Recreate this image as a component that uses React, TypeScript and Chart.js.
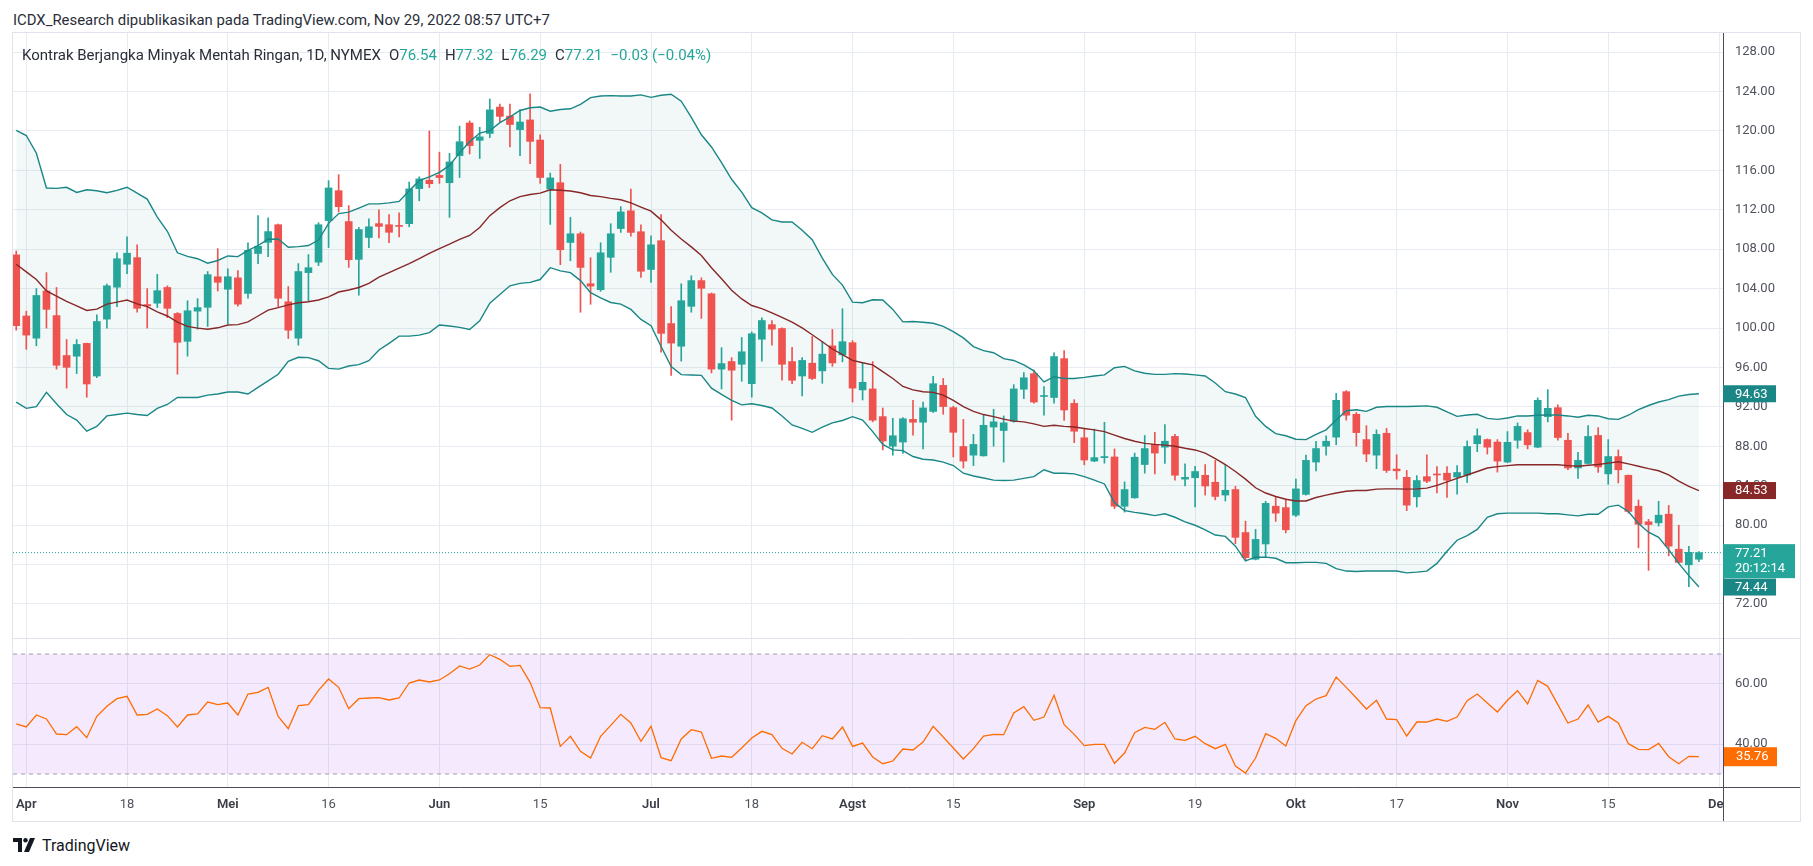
import React, { useEffect, useRef } from "react";
import { Chart, registerables } from "chart.js";

Chart.register(...registerables);

// ---------- data (trading-day index 0 = 31 Mar 2022 ... 167 = 29 Nov 2022) ----------
const opens = [
  107.42, 101.22, 98.97, 103.76, 101.26, 97.21, 97.14, 98.44, 95.13, 100.9,
  104.14, 106.47, 107.14, 102.38, 102.52, 104.11, 101.47, 98.65, 101.71, 102.1,
  105.2, 103.93, 105.09, 103.51, 107.56, 108.69, 110.48, 102.66, 98.97, 105.62,
  106.68, 110.9, 113.93, 110.8, 106.96, 109.18, 110.59, 110.48, 110.38, 110.59,
  114.14, 114.99, 115.48, 114.74, 117.49, 120.8, 119.04, 119.74, 122.41, 121.5,
  120.13, 121.11, 119.07, 114.1, 114.74, 108.68, 109.56, 104.49, 103.89, 107.17,
  110.09, 111.89, 109.77, 105.94, 108.86, 100.45, 98.15, 102.2, 104.81, 103.47,
  95.83, 96.6, 96.32, 94.35, 98.86, 100.34, 99.95, 96.6, 95.13, 96.43,
  95.65, 98.19, 97.27, 98.51, 93.72, 93.82, 91.01, 88.01, 88.43, 90.73,
  90.44, 91.54, 94.18, 91.92, 87.98, 87.1, 87.03, 89.95, 89.6, 90.55,
  93.79, 95.37, 93.05, 92.95, 96.89, 92.35, 88.86, 86.5, 86.85, 86.92,
  81.92, 82.77, 86.15, 88.19, 87.91, 89.0, 84.67, 84.81, 85.06, 84.35,
  83.05, 83.61, 79.25, 76.54, 78.09, 81.92, 81.78, 81.01, 83.12, 86.4,
  88.01, 88.93, 93.54, 91.25, 88.68, 87.1, 89.32, 85.69, 84.85, 82.87,
  84.92, 85.16, 85.27, 84.88, 85.09, 88.26, 88.68, 88.43, 86.4, 88.61,
  89.39, 87.91, 91.01, 91.92, 88.61, 85.8, 86.26, 89.1, 85.2, 86.96,
  85.06, 81.92, 80.34, 80.23, 81.11, 77.56, 75.97, 76.54,
];
const highs = [
  107.81, 101.71, 104.0, 105.62, 104.11, 98.83, 98.83, 98.47, 101.33, 104.46,
  107.63, 109.25, 108.44, 104.0, 105.45, 104.28, 101.57, 102.77, 102.98, 105.73,
  108.05, 106.01, 105.83, 108.65, 111.4, 111.19, 110.55, 104.21, 106.54, 107.45,
  110.69, 114.95, 115.55, 112.42, 110.2, 111.08, 112.0, 111.5, 111.68, 114.81,
  115.34, 119.99, 117.84, 117.73, 120.48, 121.01, 120.37, 123.23, 122.73, 122.73,
  122.17, 123.75, 119.6, 115.72, 116.6, 111.22, 109.74, 107.13, 108.65, 110.58,
  112.31, 114.1, 110.48, 109.35, 111.5, 102.17, 104.49, 105.3, 105.09, 103.55,
  98.01, 96.99, 99.04, 99.6, 101.04, 100.76, 100.02, 98.05, 96.99, 99.14,
  98.61, 99.85, 101.96, 98.72, 96.5, 96.6, 91.89, 90.83, 90.9, 92.66,
  92.49, 95.09, 94.88, 92.06, 90.73, 89.21, 91.15, 91.75, 91.08, 94.25,
  95.48, 95.72, 94.07, 97.49, 97.7, 92.73, 89.74, 89.74, 90.44, 87.73,
  84.39, 87.31, 89.1, 89.42, 90.2, 89.21, 86.22, 85.97, 86.15, 86.57,
  86.08, 83.93, 80.41, 79.57, 82.42, 82.91, 82.63, 84.67, 87.1, 88.51,
  89.07, 93.37, 93.65, 91.43, 90.09, 89.67, 89.81, 87.14, 85.55, 85.02,
  87.14, 85.94, 85.94, 86.04, 88.54, 89.77, 88.75, 88.68, 89.49, 90.37,
  89.67, 92.91, 93.75, 92.2, 89.32, 87.38, 90.09, 89.91, 88.68, 87.63,
  85.09, 82.56, 80.59, 82.42, 82.0, 79.99, 77.84, 77.32,
];
const lows = [
  99.78, 97.84, 98.19, 99.99, 95.83, 93.9, 95.38, 92.98, 94.95, 99.99,
  102.17, 105.52, 101.61, 99.99, 102.07, 101.05, 95.31, 97.14, 99.88, 100.16,
  103.76, 100.41, 102.21, 103.02, 106.54, 107.24, 102.17, 98.93, 98.26, 102.74,
  106.33, 108.16, 111.78, 106.15, 103.33, 108.16, 109.14, 108.65, 109.25, 110.27,
  112.91, 114.25, 114.67, 111.22, 115.27, 117.66, 117.2, 119.32, 120.9, 118.37,
  117.49, 116.67, 114.67, 110.51, 106.43, 106.82, 101.6, 102.41, 103.72, 105.65,
  109.7, 109.32, 105.13, 104.63, 97.56, 95.2, 96.64, 101.6, 100.97, 95.44,
  93.82, 90.65, 94.6, 92.98, 96.64, 98.26, 94.7, 94.35, 93.12, 94.77,
  94.39, 96.11, 96.57, 92.49, 92.7, 90.48, 87.63, 87.1, 87.27, 89.14,
  87.73, 91.43, 91.25, 86.92, 85.8, 86.04, 87.0, 88.01, 86.4, 90.44,
  92.84, 92.38, 91.15, 92.38, 90.62, 88.37, 86.12, 86.43, 86.29, 81.67,
  81.32, 82.73, 85.27, 85.2, 86.26, 84.56, 83.97, 81.85, 83.05, 82.56,
  82.45, 78.12, 76.47, 76.47, 76.78, 80.38, 79.21, 80.87, 83.05, 85.51,
  87.1, 88.16, 90.65, 88.01, 86.43, 85.73, 85.34, 84.67, 81.47, 81.85,
  84.32, 83.26, 82.8, 83.15, 84.32, 87.45, 87.21, 85.38, 86.33, 87.8,
  87.73, 87.85, 90.48, 88.61, 85.62, 84.74, 86.2, 85.34, 84.14, 84.28,
  81.22, 77.7, 75.41, 79.91, 76.89, 76.15, 73.76, 76.29,
];
const closes = [
  100.24, 99.28, 103.3, 101.89, 96.22, 96.01, 98.33, 94.32, 100.66, 104.28,
  107.03, 107.59, 102.0, 102.24, 103.79, 102.0, 98.55, 101.75, 102.07, 105.41,
  104.64, 105.2, 102.42, 107.88, 108.3, 109.78, 103.02, 99.78, 105.73, 106.12,
  110.48, 114.21, 112.31, 106.93, 109.99, 110.27, 110.31, 109.71, 110.31, 114.11,
  115.13, 114.64, 115.27, 116.85, 118.9, 118.51, 119.39, 122.13, 121.47, 120.65,
  120.9, 118.93, 115.27, 115.23, 107.94, 109.56, 106.15, 104.25, 107.63, 109.56,
  111.78, 109.7, 105.76, 108.44, 99.46, 98.47, 102.77, 104.81, 104.03, 95.83,
  96.39, 95.72, 97.59, 99.42, 100.76, 99.88, 96.32, 94.7, 96.71, 94.88,
  97.35, 96.46, 98.61, 93.9, 94.49, 90.65, 88.54, 89.07, 90.79, 90.44,
  91.89, 94.35, 92.03, 89.42, 86.5, 88.19, 90.13, 90.48, 90.38, 93.82,
  94.95, 92.49, 93.12, 97.1, 91.68, 89.53, 86.61, 86.85, 86.96, 81.92,
  83.61, 86.89, 87.77, 87.31, 88.51, 85.06, 84.85, 85.44, 83.97, 82.91,
  83.54, 78.76, 76.71, 78.55, 82.21, 81.22, 79.53, 83.68, 86.57, 87.77,
  88.51, 92.66, 91.15, 89.39, 87.21, 89.21, 85.55, 85.51, 82.03, 84.53,
  84.46, 85.09, 84.56, 85.34, 87.98, 89.07, 87.91, 86.5, 88.4, 90.02,
  88.15, 92.66, 91.85, 88.89, 85.8, 86.57, 89.0, 85.9, 86.96, 85.62,
  81.39, 80.09, 80.06, 81.01, 77.87, 76.22, 77.24, 77.21,
];

const bbUpper = [
  120.06, 119.53, 117.73, 114.21, 114.17, 114.28, 113.75, 114.03, 113.93, 113.72,
  113.97, 114.28, 113.68, 113.08, 111.25, 109.81, 107.63, 107.27, 107.03, 106.57,
  106.85, 107.31, 107.24, 107.87, 108.37, 109.0, 109.03, 108.19, 108.26, 108.37,
  108.93, 110.62, 111.61, 111.75, 112.17, 112.59, 112.59, 112.7, 112.84, 113.93,
  114.95, 115.34, 115.8, 116.5, 117.77, 118.9, 119.78, 120.02, 120.83, 121.43,
  122.07, 122.35, 122.42, 121.99, 122.17, 122.24, 122.7, 123.37, 123.54, 123.58,
  123.54, 123.54, 123.65, 123.4, 123.61, 123.72, 123.01, 121.36, 119.6, 118.37,
  116.78, 115.09, 113.79, 112.21, 111.68, 110.97, 110.76, 110.76, 109.92, 108.96,
  107.1, 105.44, 104.35, 102.63, 102.56, 102.87, 102.84, 101.89, 100.62, 100.66,
  100.59, 100.48, 100.16, 99.64, 99.0, 98.12, 97.7, 97.49, 96.89, 96.71,
  96.26, 95.65, 94.53, 95.06, 94.88, 94.88, 94.99, 95.13, 95.24, 95.97,
  96.11, 95.65, 95.41, 95.3, 95.3, 95.37, 95.34, 95.24, 95.13, 94.42,
  93.54, 93.3, 92.95, 91.04, 90.02, 89.28, 89.07, 88.72, 88.68, 89.21,
  89.67, 90.66, 91.61, 91.71, 91.54, 91.96, 92.03, 92.03, 92.03, 92.06,
  92.1, 91.96, 91.5, 91.04, 91.18, 91.25, 90.83, 90.73, 90.87, 91.08,
  91.08, 91.15, 91.18, 91.18, 91.08, 90.94, 91.15, 91.08, 90.8, 90.73,
  91.15, 91.71, 92.14, 92.49, 92.73, 93.09, 93.26, 93.33,
];
const bbBasis = [
  106.47, 105.69, 104.92, 103.76, 103.23, 102.7, 102.24, 101.78, 101.92, 102.42,
  102.63, 102.84, 102.45, 102.17, 101.64, 101.22, 100.59, 100.16, 99.99, 99.88,
  100.02, 100.31, 100.34, 100.62, 101.22, 101.82, 102.07, 102.35, 102.56, 102.66,
  102.84, 103.16, 103.65, 103.86, 104.11, 104.53, 105.16, 105.62, 106.08, 106.54,
  107.03, 107.56, 108.05, 108.51, 109.0, 109.39, 110.2, 111.4, 112.21, 112.91,
  113.33, 113.54, 113.68, 114.03, 113.97, 113.9, 113.72, 113.44, 113.33, 113.15,
  113.01, 112.7, 112.27, 111.85, 110.97, 109.92, 109.03, 108.23, 107.35, 106.12,
  104.99, 103.83, 102.95, 102.28, 101.96, 101.54, 101.08, 100.59, 100.02, 99.32,
  98.61, 97.87, 97.31, 96.71, 96.47, 96.26, 95.58, 94.88, 94.07, 93.72,
  93.54, 93.47, 93.19, 92.66, 92.03, 91.54, 91.22, 91.01, 90.76, 90.55,
  90.48, 90.27, 90.02, 90.13, 90.02, 89.95, 89.81, 89.67, 89.49, 89.14,
  88.79, 88.51, 88.3, 88.19, 88.12, 88.01, 87.8, 87.63, 87.31, 86.75,
  86.15, 85.44, 84.67, 83.79, 83.26, 82.91, 82.63, 82.45, 82.45, 82.8,
  83.05, 83.26, 83.44, 83.51, 83.51, 83.65, 83.68, 83.68, 83.65, 83.68,
  83.75, 84.04, 84.39, 84.74, 85.09, 85.44, 85.8, 85.94, 86.04, 86.12,
  86.12, 86.12, 86.12, 86.12, 86.04, 85.97, 86.08, 86.15, 86.29, 86.43,
  86.22, 85.97, 85.73, 85.52, 85.09, 84.46, 83.93, 83.51,
];
const bbLower = [
  92.49, 91.85, 92.03, 93.47, 92.31, 91.22, 90.66, 89.53, 90.02, 91.08,
  91.22, 91.36, 91.22, 91.12, 91.85, 92.24, 92.95, 92.95, 92.95, 93.19,
  93.3, 93.51, 93.51, 93.3, 93.97, 94.64, 95.31, 96.61, 97.03, 97.0,
  96.68, 95.9, 95.83, 96.15, 96.29, 96.68, 97.77, 98.44, 99.18, 99.18,
  99.28, 99.53, 100.31, 100.2, 100.06, 99.85, 100.73, 102.52, 103.4, 104.28,
  104.53, 104.63, 104.92, 106.12, 105.8, 105.62, 104.81, 103.58, 103.05, 102.59,
  102.42, 101.89, 100.87, 100.24, 98.12, 96.08, 95.27, 95.24, 95.2, 93.9,
  93.26, 92.66, 92.2, 92.31, 92.14, 91.89, 91.08, 90.16, 89.81, 89.42,
  89.95, 90.37, 90.62, 91.01, 90.66, 89.49, 88.19, 87.63, 87.56, 86.96,
  86.68, 86.61, 86.4, 86.05, 85.27, 84.99, 84.78, 84.57, 84.53, 84.57,
  84.74, 84.92, 85.62, 85.27, 85.27, 85.2, 84.92, 84.57, 84.18, 82.28,
  81.47, 81.29, 81.15, 80.97, 81.15, 80.8, 80.34, 79.99, 79.53, 79.0,
  78.86, 77.87, 76.36, 76.75, 76.75, 76.64, 76.19, 76.19, 76.22, 76.22,
  76.12, 75.58, 75.34, 75.3, 75.34, 75.34, 75.34, 75.34, 75.16, 75.23,
  75.34, 76.12, 77.35, 78.47, 78.93, 79.57, 80.8, 81.15, 81.22, 81.22,
  81.22, 81.22, 81.15, 81.15, 81.04, 80.94, 81.11, 81.11, 81.85, 82.03,
  81.39, 80.16, 79.28, 78.76, 77.52, 76.12, 74.88, 73.72,
];

const rsiValues = [
  46.67, 45.67, 49.67, 48.33, 43.33, 43.11, 45.78, 42.11, 49.22, 52.56,
  55.11, 55.89, 49.67, 49.89, 51.67, 49.44, 45.67, 49.67, 50.0, 54.0,
  53.11, 53.67, 49.67, 56.67, 57.22, 58.89, 49.22, 45.11, 52.78, 53.11,
  57.89, 61.67, 58.89, 51.78, 55.11, 55.33, 55.44, 54.67, 55.33, 60.33,
  61.33, 60.67, 61.33, 63.44, 66.0, 65.0, 66.33, 69.78, 68.22, 65.89,
  66.22, 60.56, 52.11, 52.0, 39.22, 42.56, 37.56, 35.33, 42.56, 46.22,
  49.89, 47.0, 40.89, 45.89, 35.44, 34.44, 41.67, 44.78, 44.0, 35.22,
  36.0, 35.56, 38.67, 42.0, 44.22, 43.11, 38.56, 36.67, 40.56, 38.44,
  42.78, 41.67, 45.67, 39.22, 40.33, 35.67, 33.44, 34.33, 38.33, 38.0,
  40.67, 45.89, 42.33, 38.67, 35.0, 38.44, 42.67, 43.22, 43.11, 50.33,
  52.44, 47.89, 49.0, 56.22, 46.44, 43.22, 39.44, 39.89, 39.89, 33.56,
  37.0, 43.78, 45.56, 44.89, 47.22, 41.67, 41.22, 42.56, 40.11, 38.44,
  39.89, 32.67, 30.33, 35.33, 43.44, 41.89, 39.33, 47.78, 52.78, 55.0,
  56.11, 62.33, 58.89, 55.33, 51.67, 54.56, 48.33, 48.11, 42.67, 47.33,
  47.33, 48.33, 47.56, 49.0, 54.44, 56.67, 53.67, 50.67, 54.56, 57.78,
  53.33, 61.22, 59.22, 53.11, 47.0, 48.33, 53.0, 47.33, 49.22, 47.0,
  40.11, 38.22, 38.11, 40.22, 35.78, 33.44, 35.89, 35.76,
];

const timeTickIndex = [1, 11, 21, 31, 42, 52, 63, 73, 83, 93, 106, 117, 127, 137, 148, 158, 169];
const timeTickLabels = ["Apr", "18", "Mei", "16", "Jun", "15", "Jul", "18", "Agst", "15", "Sep", "19", "Okt", "17", "Nov", "15", "Des"];
const monthNames = ["Apr", "Mei", "Jun", "Jul", "Agst", "Sep", "Okt", "Nov", "Des"];
const priceTicks = [72, 76, 80, 84, 88, 92, 96, 100, 104, 108, 112, 116, 120, 124, 128];
const rsiTicks = [40, 60];
const rsiBandLevels = [70, 30];

const headerText = "ICDX_Research dipublikasikan pada TradingView.com, Nov 29, 2022 08:57 UTC+7";
const symbolTitle = "Kontrak Berjangka Minyak Mentah Ringan, 1D, NYMEX";
const ohlcLegend = [
  ["O", "76.54"],
  ["H", "77.32"],
  ["L", "76.29"],
  ["C", "77.21"],
];
const changeText = "\u22120.03 (\u22120.04%)";
const bbUpperLabel = "94.63";
const bbBasisLabel = "84.53";
const bbLowerLabel = "74.44";
const lastPriceLabel = "77.21";
const countdownLabel = "20:12:14";
const rsiLabel = "35.76";

// ---------- styling ----------
const UP = "#26a69a";
const DOWN = "#ef5350";
const BAND = "#1a8686";
const BASIS = "#872727";
const GRID = "#e6ecf1";
const AXIS_TEXT = "#50535e";
const AXIS_LINE = "#4a4d57";
const RSI_COLOR = "#ff6d00";
const FONT = "Roboto";

const X_MIN = -0.32;
const X_MAX = 169.39;
const CANVAS_W = 1787;

function drawTag(ctx: CanvasRenderingContext2D, x: number, top: number, w: number, h: number, bg: string, lines: string[], lineY: number[]) {
  ctx.fillStyle = bg;
  ctx.fillRect(x, top, w, h);
  ctx.fillStyle = "#ffffff";
  ctx.font = `13px ${FONT}`;
  ctx.textAlign = "left";
  ctx.textBaseline = "middle";
  lines.forEach((t, k) => ctx.fillText(t, x + 12, lineY[k]));
}

const topTagPlugin = {
  id: "topTags",
  afterDraw(chart: any) {
    const { ctx, chartArea, scales } = chart;
    const ys = scales.y;
    const x = chartArea.right;
    const last = closes.length - 1;
    ctx.save();
    const bbTags: [number, string, string][] = [
      [bbUpper[last], bbUpperLabel, BAND],
      [bbBasis[last], bbBasisLabel, BASIS],
      [bbLower[last], bbLowerLabel, BAND],
    ];
    bbTags.forEach(([v, t, c]) => {
      const py = ys.getPixelForValue(v);
      drawTag(ctx, x, py - 8.5, 53, 17, c, [t], [py + 0.5]);
    });
    const pc = ys.getPixelForValue(closes[last]);
    drawTag(ctx, x, pc - 8.5, 72, 34, UP, [lastPriceLabel, countdownLabel], [pc + 1.5, pc + 16.5]);
    ctx.restore();
  },
};

const bottomPlugin = {
  id: "bottomDeco",
  afterDraw(chart: any) {
    const { ctx, chartArea, scales, width, height } = chart;
    ctx.save();
    ctx.fillStyle = "#ffffff";
    ctx.fillRect(chartArea.right + 1, chartArea.bottom + 1, width - chartArea.right, height - chartArea.bottom);
    ctx.strokeStyle = "#e0e3eb";
    ctx.lineWidth = 1;
    ctx.beginPath();
    ctx.moveTo(0, 0.5);
    ctx.lineTo(width, 0.5);
    ctx.stroke();
    ctx.strokeStyle = AXIS_LINE;
    ctx.beginPath();
    ctx.moveTo(0, Math.round(chartArea.bottom) + 0.5);
    ctx.lineTo(width, Math.round(chartArea.bottom) + 0.5);
    ctx.moveTo(Math.round(chartArea.right) + 0.5, 0);
    ctx.lineTo(Math.round(chartArea.right) + 0.5, height);
    ctx.stroke();
    const py = scales.y.getPixelForValue(rsiValues[rsiValues.length - 1]);
    drawTag(ctx, chartArea.right + 1, py - 9.5, 53, 19, RSI_COLOR, [rsiLabel], [py + 0.5]);
    ctx.restore();
  },
};

function xScale(showLabels: boolean): any {
  return {
    type: "linear",
    min: X_MIN,
    max: X_MAX,
    offset: false,
    afterBuildTicks: (s: any) => {
      s.ticks = timeTickIndex.map((v) => ({ value: v }));
    },
    ticks: {
      display: showLabels,
      autoSkip: false,
      maxRotation: 0,
      minRotation: 0,
      padding: 10,
      callback: (_v: any, idx: number) => timeTickLabels[idx],
      color: (c: any) => (monthNames.includes(timeTickLabels[c.index]) ? "#3a3d47" : AXIS_TEXT),
      font: (c: any) => ({
        family: FONT,
        size: 13,
        weight: monthNames.includes(timeTickLabels[c.index]) ? "600" : "400",
      }),
    },
    grid: { color: GRID, drawTicks: false, lineWidth: 1, offset: false },
    border: { display: false },
    afterFit: (s: any) => {
      s.height = showLabels ? 34 : 0;
      s.paddingLeft = 0;
      s.paddingRight = 0;
    },
  };
}

function yScale(min: number, max: number, ticksArr: number[], showBorder: boolean): any {
  return {
    type: "linear",
    position: "right",
    min,
    max,
    beginAtZero: false,
    grace: 0,
    afterBuildTicks: (s: any) => {
      s.ticks = ticksArr.map((v) => ({ value: v }));
    },
    ticks: {
      callback: (v: any) => Number(v).toFixed(2),
      color: AXIS_TEXT,
      font: { family: FONT, size: 13 },
      padding: 12,
    },
    grid: { color: GRID, drawTicks: false },
    border: { display: showBorder, color: AXIS_LINE, width: 1 },
    afterFit: (s: any) => {
      s.width = 77;
      s.paddingTop = 0;
      s.paddingBottom = 0;
    },
  };
}

export default function App() {
  const topRef = useRef<HTMLCanvasElement | null>(null);
  const botRef = useRef<HTMLCanvasElement | null>(null);

  useEffect(() => {
    const last = closes.length - 1;
    const candleColors = closes.map((c, i) => (c >= opens[i] ? UP : DOWN));
    const top = new Chart(topRef.current as HTMLCanvasElement, {
      type: "line",
      data: {
        datasets: [
          {
            type: "line",
            label: "BB Upper",
            data: bbUpper.map((v, i) => ({ x: i, y: v })),
            borderColor: BAND,
            borderWidth: 1.4,
            pointRadius: 0,
            order: 0,
          },
          {
            type: "line",
            label: "BB Lower",
            data: bbLower.map((v, i) => ({ x: i, y: v })),
            borderColor: BAND,
            borderWidth: 1.4,
            pointRadius: 0,
            fill: "-1",
            backgroundColor: "rgba(19,132,132,0.055)",
            order: 0,
          },
          {
            type: "line",
            label: "BB Basis",
            data: bbBasis.map((v, i) => ({ x: i, y: v })),
            borderColor: BASIS,
            borderWidth: 1.4,
            pointRadius: 0,
            order: 0,
          },
          {
            type: "line",
            label: "Last",
            data: [
              { x: X_MIN, y: closes[last] },
              { x: X_MAX, y: closes[last] },
            ],
            borderColor: UP,
            borderWidth: 1,
            borderDash: [1, 2],
            pointRadius: 0,
            order: 0,
          },
          {
            type: "bar",
            label: "Body",
            data: opens.map((o, i) => ({ x: i, y: [o, closes[i]] })),
            backgroundColor: candleColors,
            barThickness: 7,
            grouped: false,
            minBarLength: 1,
            borderWidth: 0,
            order: 1,
          },
          {
            type: "bar",
            label: "Wick",
            data: lows.map((l, i) => ({ x: i, y: [l, highs[i]] })),
            backgroundColor: candleColors,
            barThickness: 1,
            grouped: false,
            borderWidth: 0,
            order: 2,
          },
        ] as any,
      },
      options: {
        animation: false,
        responsive: false,
        maintainAspectRatio: false,
        events: [],
        layout: { padding: 0, autoPadding: false },
        plugins: {
          legend: { display: false },
          tooltip: { enabled: false },
          filler: { drawTime: "beforeDatasetsDraw" },
        } as any,
        scales: {
          x: xScale(false),
          y: yScale(68.55, 129.93, priceTicks, true),
        } as any,
      },
      plugins: [topTagPlugin],
    });

    const bottom = new Chart(botRef.current as HTMLCanvasElement, {
      type: "line",
      data: {
        datasets: [
          {
            type: "line",
            label: "RSI",
            data: rsiValues.map((v, i) => ({ x: i, y: v })),
            borderColor: RSI_COLOR,
            borderWidth: 1.3,
            pointRadius: 0,
            order: 0,
          },
          {
            type: "line",
            label: "Upper band",
            data: [
              { x: X_MIN, y: rsiBandLevels[0] },
              { x: X_MAX, y: rsiBandLevels[0] },
            ],
            borderColor: "#a29eae",
            borderWidth: 1,
            borderDash: [4, 4],
            pointRadius: 0,
            order: 1,
          },
          {
            type: "line",
            label: "Lower band",
            data: [
              { x: X_MIN, y: rsiBandLevels[1] },
              { x: X_MAX, y: rsiBandLevels[1] },
            ],
            borderColor: "#a29eae",
            borderWidth: 1,
            borderDash: [4, 4],
            pointRadius: 0,
            fill: "-1",
            backgroundColor: "rgba(156,39,236,0.1)",
            order: 1,
          },
        ] as any,
      },
      options: {
        animation: false,
        responsive: false,
        maintainAspectRatio: false,
        events: [],
        layout: { padding: 0, autoPadding: false },
        plugins: {
          legend: { display: false },
          tooltip: { enabled: false },
          filler: { drawTime: "beforeDatasetsDraw" },
        } as any,
        scales: {
          x: xScale(true),
          y: yScale(25.667, 75.333, rsiTicks, false),
        } as any,
      },
      plugins: [bottomPlugin],
    });

    return () => {
      top.destroy();
      bottom.destroy();
    };
  }, []);

  return (
    <div
      style={{
        position: "absolute",
        left: 0,
        top: 0,
        width: 1813,
        height: 866,
        background: "#ffffff",
        overflow: "hidden",
        fontFamily: `${FONT}, sans-serif`,
      }}
    >
      <div style={{ position: "absolute", left: 13, top: 10, fontSize: 14.9, lineHeight: "20px", color: "#2a2e39", whiteSpace: "nowrap" }}>
        {headerText}
      </div>
      <div
        style={{
          position: "absolute",
          left: 12,
          top: 32,
          width: 1789,
          height: 790,
          boxSizing: "border-box",
          border: "1px solid #e0e3eb",
        }}
      />
      <canvas
        ref={topRef}
        width={CANVAS_W}
        height={605}
        style={{ position: "absolute", left: 13, top: 33, width: CANVAS_W, height: 605 }}
      />
      <canvas
        ref={botRef}
        width={CANVAS_W}
        height={183}
        style={{ position: "absolute", left: 13, top: 638, width: CANVAS_W, height: 183 }}
      />
      <div
        style={{
          position: "absolute",
          left: 22,
          top: 45,
          fontSize: 15,
          lineHeight: "20px",
          color: "#2a2e39",
          whiteSpace: "nowrap",
        }}
      >
        <span>{symbolTitle}</span>
        {ohlcLegend.map(([k, v]) => (
          <span key={k} style={{ marginLeft: 8 }}>
            {k}
            <span style={{ color: UP }}>{v}</span>
          </span>
        ))}
        <span style={{ marginLeft: 8, color: UP }}>{changeText}</span>
      </div>
      <div style={{ position: "absolute", left: 13, top: 835, height: 20, display: "flex", alignItems: "center" }}>
        <svg width="24" height="14" viewBox="0 0 24 14" style={{ display: "block" }}>
          <path d="M0 0 H9 V14 H5 V4 H0 Z" fill="#131722" />
          <circle cx="12.5" cy="2.2" r="2.2" fill="#131722" />
          <path d="M17 0 H22 L16 14 H11 Z" fill="#131722" />
        </svg>
        <span style={{ marginLeft: 5, fontSize: 16, color: "#131722" }}>TradingView</span>
      </div>
    </div>
  );
}
